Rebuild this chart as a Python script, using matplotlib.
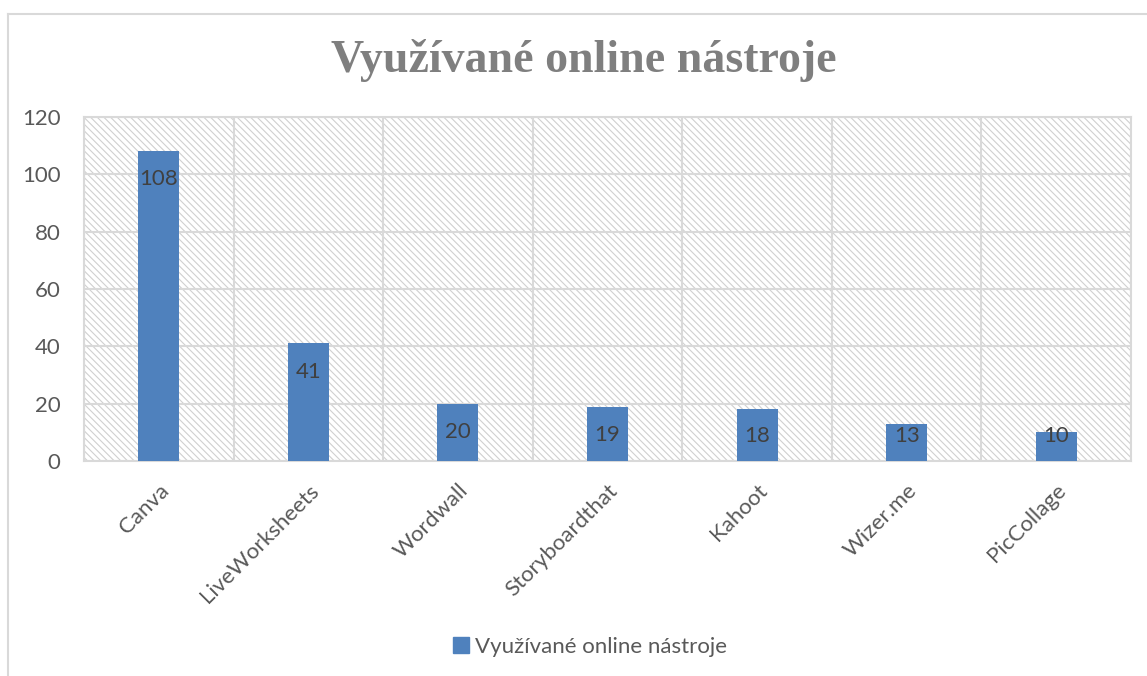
import matplotlib
matplotlib.use("Agg")
import matplotlib.pyplot as plt
from matplotlib.patches import Rectangle
from matplotlib.lines import Line2D
import numpy as np

# data
tools = ["Canva", "LiveWorksheets", "Wordwall", "Storyboardthat", "Kahoot", "Wizer.me", "PicCollage"]
counts = [108, 41, 20, 19, 18, 13, 10]
series_name = "Využívané online nástroje"
title = "Využívané online nástroje"
y_ticks = [0, 20, 40, 60, 80, 100, 120]

bar_color = "#4F81BD"
grid_color = "#D9D9D9"
tick_color = "#595959"

plt.rcParams['font.family'] = ['Lato', 'DejaVu Sans']
plt.rcParams['hatch.linewidth'] = 0.8

fig = plt.figure(figsize=(11.47, 6.76), dpi=100)
W, H = 1147, 676

# outer chart border (left and top visible)
fig.add_artist(Line2D([8 / W, 8 / W], [0, 1 - 14 / H], color=grid_color, lw=1.5))
fig.add_artist(Line2D([8 / W, 1], [1 - 14 / H, 1 - 14 / H], color=grid_color, lw=1.5))

ax = fig.add_axes([84 / W, 1 - 461 / H, (1131 - 84) / W, (461 - 117) / H])

# hatched plot background
bg = Rectangle((0, 0), 1, 1, transform=ax.transAxes, facecolor="white",
               edgecolor="#D0D0D0", hatch="\\\\\\\\\\", linewidth=0, zorder=0)
ax.add_patch(bg)

x = np.arange(len(tools))
bars = ax.bar(x, counts, width=0.274, color=bar_color, zorder=3)

for xi, v in zip(x, counts):
    ax.text(xi, max(v - 9.8, 8.7), str(v), ha="center", va="center",
            fontsize=16, color="#404040", zorder=4)

ax.set_xlim(-0.5, len(tools) - 0.5)
ax.set_ylim(0, 120)
ax.set_yticks(y_ticks)
ax.set_yticklabels([str(t) for t in y_ticks])
ax.set_xticks(x)
ax.set_xticklabels(tools, rotation=45, ha="right", va="top", rotation_mode="anchor")
ax.set_xticks(np.arange(-0.5, len(tools), 1.0), minor=True)

ax.tick_params(axis="both", which="both", length=0, colors=tick_color, labelsize=16)
ax.tick_params(axis="y", pad=17)
ax.tick_params(axis="x", pad=14)

ax.grid(axis="y", which="major", color=grid_color, lw=1.5, zorder=1)
ax.grid(axis="x", which="minor", color=grid_color, lw=1.5, zorder=1)
ax.grid(axis="x", which="major", visible=False)
ax.set_axisbelow(True)
for s in ax.spines.values():
    s.set_color(grid_color)
    s.set_linewidth(1.5)

fig.text(584 / W, 1 - 60 / H, title, ha="center", va="center", fontsize=33,
         fontweight="bold", color="#7F7F7F", family=["Liberation Serif", "DejaVu Serif"])

fig.legend([Rectangle((0, 0), 1, 1, color=bar_color)], [series_name],
           loc="center", bbox_to_anchor=(590 / W, 1 - 647 / H), frameon=False,
           fontsize=16, labelcolor=tick_color, handlelength=0.7, handleheight=0.7,
           handletextpad=0.25)

fig.savefig("out.png", dpi=100)
